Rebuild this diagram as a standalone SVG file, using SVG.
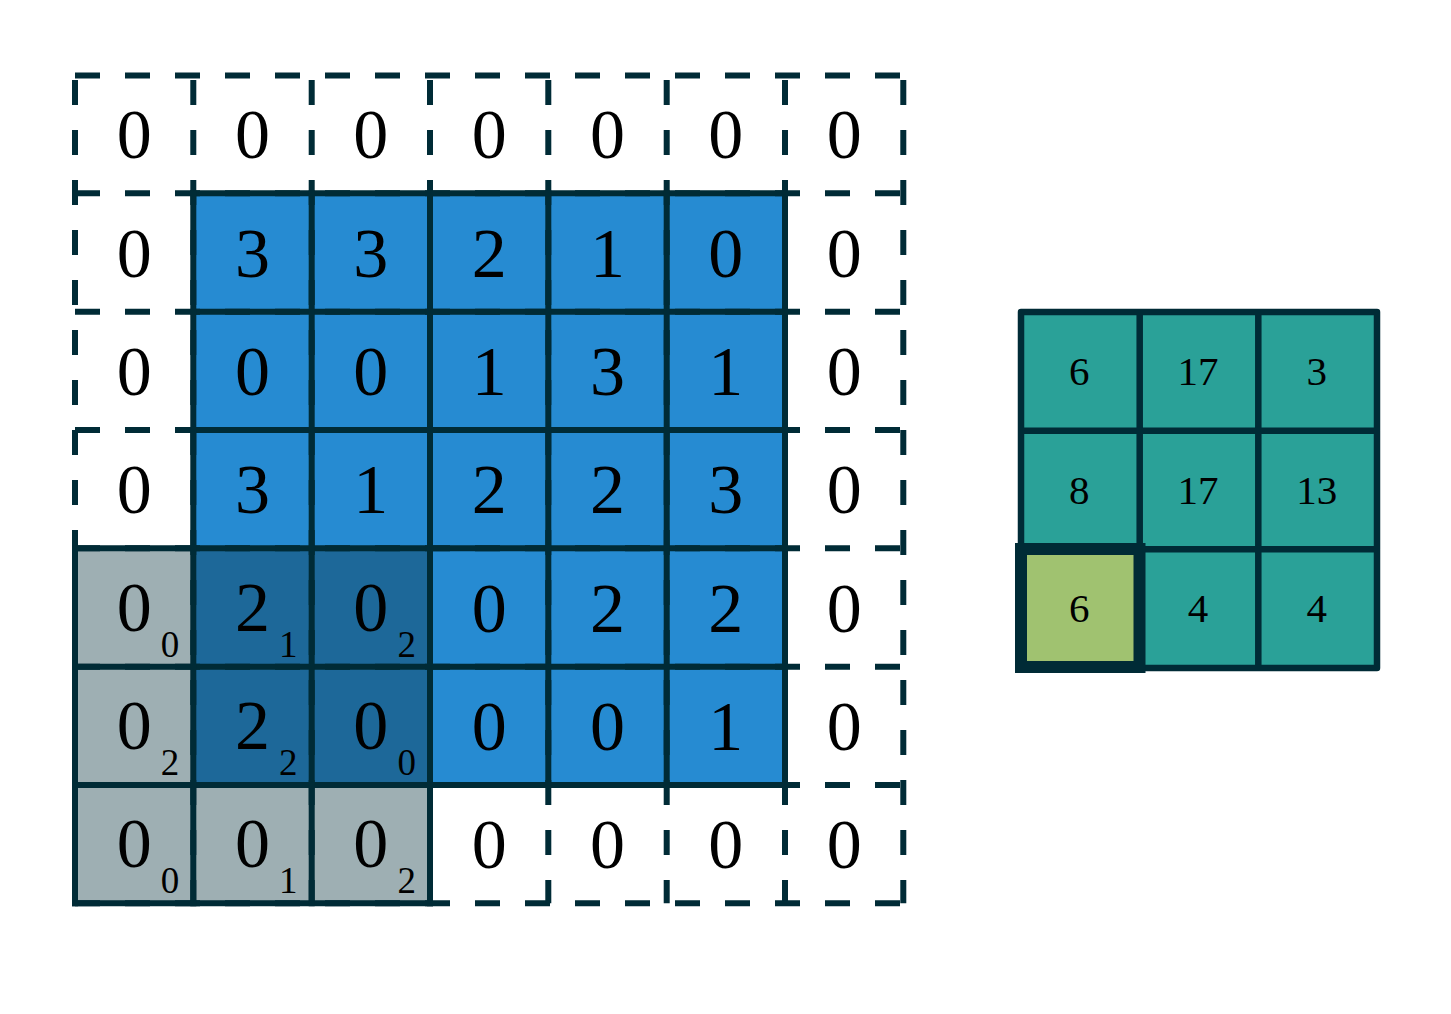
<svg xmlns="http://www.w3.org/2000/svg" width="1451" height="1014" viewBox="0 0 1451 1014">
<style>
.blue{fill:#268bd2}
.dblue{fill:#1d6899}
.gray{fill:#9eafb3}
.teal{fill:#2aa198}
.hl{fill:#a0c270;stroke:#002b36;stroke-width:12}
.dash{stroke:#002b36;stroke-width:6;stroke-dasharray:25 25;fill:none}
.solid{stroke:#002b36;stroke-width:6;fill:none;stroke-linecap:square}
.osolid{stroke:#002b36;stroke-width:6.5;fill:none;stroke-linecap:round}
text{font-family:"Liberation Serif","DejaVu Serif",serif;fill:#000;text-anchor:middle}
.big{font-size:70px}
.sub{font-size:37px}
.out{font-size:41px}
</style>
<rect width="1451" height="1014" fill="#fff"/>
<g id="input-fills">
<rect class="blue" x="193.3" y="193.3" width="591.7" height="591.7"/>
<rect class="gray" x="75" y="548.3" width="355" height="355"/>
<rect class="dblue" x="193.3" y="548.3" width="236.7" height="236.7"/>
</g>
<g id="padding-lines">
<path class="dash" d="M75 75.5H903.3M75 193.3H903.3M75 311.7H903.3M75 430H903.3M75 548.3H903.3M75 666.7H903.3M75 785H903.3M75 903.3H903.3"/>
<path class="dash" d="M75 80V903.3M193.3 80V903.3M311.7 80V903.3M430 80V903.3M548.3 80V903.3M666.7 80V903.3M785 80V903.3M903.3 80V903.3"/>
</g>
<g id="grid-lines">
<path class="solid" d="M193.3 193.3H785M193.3 311.7H785M193.3 430H785M75 548.3H785M75 666.7H785M75 785H785M75 903.3H430"/>
<path class="solid" d="M193.3 193.3V903.3M311.7 193.3V903.3M430 193.3V903.3M548.3 193.3V785M666.7 193.3V785M785 193.3V785M75 548.3V903.3"/>
</g>
<g id="input-cells">
<g id="row0" class="big">
<text x="134.2" y="158">0</text><text x="252.5" y="158">0</text><text x="370.8" y="158">0</text><text x="489.2" y="158">0</text><text x="607.5" y="158">0</text><text x="725.8" y="158">0</text><text x="844.2" y="158">0</text>
</g>
<g id="row1" class="big">
<text x="134.2" y="276.5">0</text><text x="252.5" y="276.5">3</text><text x="370.8" y="276.5">3</text><text x="489.2" y="276.5">2</text><text x="607.5" y="276.5">1</text><text x="725.8" y="276.5">0</text><text x="844.2" y="276.5">0</text>
</g>
<g id="row2" class="big">
<text x="134.2" y="394.8">0</text><text x="252.5" y="394.8">0</text><text x="370.8" y="394.8">0</text><text x="489.2" y="394.8">1</text><text x="607.5" y="394.8">3</text><text x="725.8" y="394.8">1</text><text x="844.2" y="394.8">0</text>
</g>
<g id="row3" class="big">
<text x="134.2" y="513.2">0</text><text x="252.5" y="513.2">3</text><text x="370.8" y="513.2">1</text><text x="489.2" y="513.2">2</text><text x="607.5" y="513.2">2</text><text x="725.8" y="513.2">3</text><text x="844.2" y="513.2">0</text>
</g>
<g id="row4" class="big">
<text x="134.2" y="630.5">0</text><text x="252.5" y="630.5">2</text><text x="370.8" y="630.5">0</text><text x="489.2" y="631.5">0</text><text x="607.5" y="631.5">2</text><text x="725.8" y="631.5">2</text><text x="844.2" y="631.5">0</text>
</g>
<g id="row5" class="big">
<text x="134.2" y="748.8">0</text><text x="252.5" y="748.8">2</text><text x="370.8" y="748.8">0</text><text x="489.2" y="749.8">0</text><text x="607.5" y="749.8">0</text><text x="725.8" y="749.8">1</text><text x="844.2" y="749.8">0</text>
</g>
<g id="row6" class="big">
<text x="134.2" y="867.2">0</text><text x="252.5" y="867.2">0</text><text x="370.8" y="867.2">0</text><text x="489.2" y="868.2">0</text><text x="607.5" y="868.2">0</text><text x="725.8" y="868.2">0</text><text x="844.2" y="868.2">0</text>
</g>
<g id="kernel-weights" class="sub">
<text x="170" y="657">0</text><text x="288.3" y="657">1</text><text x="406.7" y="657">2</text>
<text x="170" y="775">2</text><text x="288.3" y="775">2</text><text x="406.7" y="775">0</text>
<text x="170" y="893">0</text><text x="288.3" y="893">1</text><text x="406.7" y="893">2</text>
</g>
</g>
<g id="output-grid">
<rect class="teal" x="1021" y="312" width="356" height="356"/>
<path class="osolid" d="M1021 312H1377M1021 430.7H1377M1021 549.3H1377M1021 668H1377M1021 312V668M1139.7 312V668M1258.3 312V668M1377 312V668"/>
<rect id="out-highlight" class="hl" x="1021" y="549" width="118.5" height="118"/>
<g id="out-cells" class="out">
<text x="1079.3" y="385">6</text><text x="1198" y="385">17</text><text x="1316.7" y="385">3</text>
<text x="1079.3" y="503.5">8</text><text x="1198" y="503.5">17</text><text x="1316.7" y="503.5">13</text>
<text x="1079.3" y="622">6</text><text x="1198" y="622">4</text><text x="1316.7" y="622">4</text>
</g>
</g>
</svg>
